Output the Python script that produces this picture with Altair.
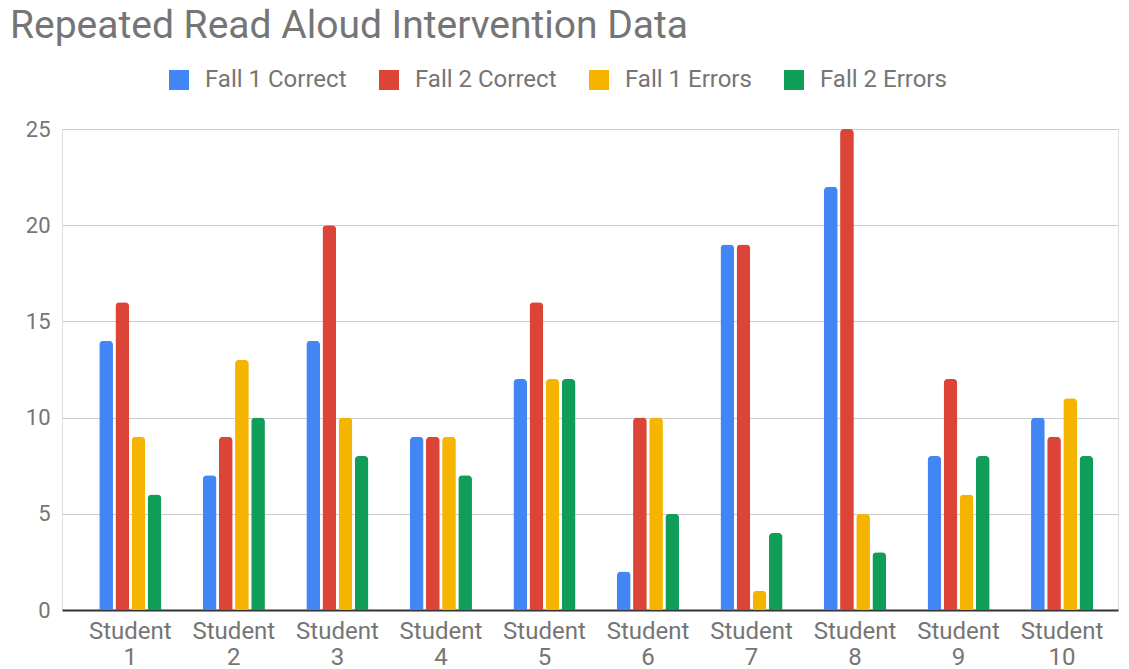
import altair as alt
import pandas as pd

students = ["Student 1", "Student 2", "Student 3", "Student 4", "Student 5",
            "Student 6", "Student 7", "Student 8", "Student 9", "Student 10"]
series = ["Fall 1 Correct", "Fall 2 Correct", "Fall 1 Errors", "Fall 2 Errors"]
fall1_correct = [14, 7, 14, 9, 12, 2, 19, 22, 8, 10]
fall2_correct = [16, 9, 20, 9, 16, 10, 19, 25, 12, 9]
fall1_errors = [9, 13, 10, 9, 12, 10, 1, 5, 6, 11]
fall2_errors = [6, 10, 8, 7, 12, 5, 4, 3, 8, 8]
colors = ["#4285F4", "#DB4437", "#F4B400", "#0F9D58"]

rows = []
for name, vals in zip(series, [fall1_correct, fall2_correct, fall1_errors, fall2_errors]):
    for s, v in zip(students, vals):
        rows.append({"Student": s, "Series": name, "Value": v})
df = pd.DataFrame(rows)

FONT = "Roboto"
GRAY = "#757575"

chart = alt.Chart(df).mark_bar(
    cornerRadiusTopLeft=4, cornerRadiusTopRight=4
).encode(
    x=alt.X("Student:N", sort=students, title=None,
            scale=alt.Scale(paddingInner=0.40, paddingOuter=0.30, align=0.6),
            axis=alt.Axis(labelAngle=0, labelExpr="split(datum.label, ' ')",
                          labelFont=FONT, labelFontSize=24, labelColor=GRAY,
                          labelLineHeight=26, labelPadding=9, ticks=False,
                          domain=True, domainColor="#333333", domainWidth=2,
                          labelBaseline="top")),
    xOffset=alt.XOffset("Series:N", sort=series,
                        scale=alt.Scale(paddingInner=0.15)),
    y=alt.Y("Value:Q", title=None,
            scale=alt.Scale(domain=[0, 25]),
            axis=alt.Axis(values=[0, 5, 10, 15, 20, 25], grid=True,
                          gridColor="#cccccc", gridWidth=1, ticks=False,
                          domain=False, labelFont=FONT, labelFontSize=22,
                          labelColor=GRAY, labelPadding=12)),
    color=alt.Color("Series:N", sort=series,
                    scale=alt.Scale(domain=series, range=colors),
                    legend=alt.Legend(title=None, orient="none", direction="horizontal",
                                      legendX=105, legendY=-61, columns=4,
                                      symbolType="square", symbolSize=400,
                                      symbolStrokeWidth=0, columnPadding=30,
                                      labelOffset=14, labelFont=FONT,
                                      labelFontSize=24, labelColor=GRAY))
).properties(
    width=1056, height=481,
    title=alt.TitleParams("Repeated Read Aloud Intervention Data",
                          anchor="start", frame="group", dx=-52, dy=-22,
                          font=FONT, fontSize=39, fontWeight="normal",
                          color=GRAY, baseline="top", offset=0),
    autosize=alt.AutoSizeParams(type="none"),
    padding={"left": 54, "top": 121, "right": 3, "bottom": 62}
).configure_view(stroke=None).configure(background="white")

chart.save("out.html", embed_options={"renderer": "svg", "actions": False})
